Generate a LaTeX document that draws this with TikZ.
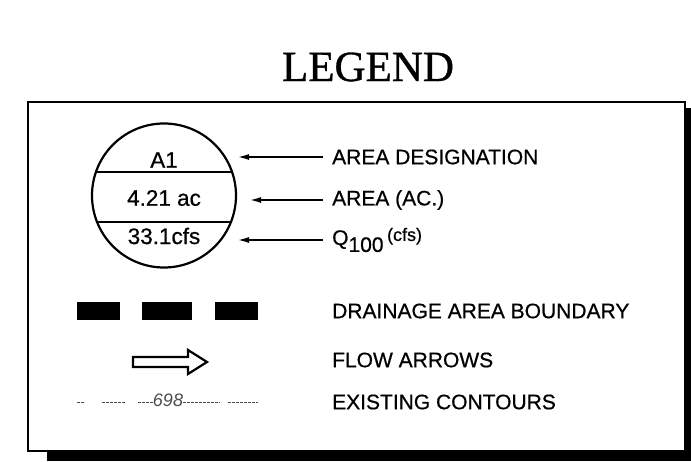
\documentclass[tikz,border=0pt]{standalone}
\usepackage{fontspec}
\setmainfont{Liberation Sans}[FakeBold=0.6]
\newfontfamily\titlefont{Liberation Serif}[FakeBold=0.8]
\newfontfamily\elevfont{Liberation Sans}
\usetikzlibrary{arrows.meta,positioning}

\begin{document}
\begin{tikzpicture}[
        x=1pt, y=-1pt,
        every node/.style={inner sep=0pt, font=\fontsize{21}{21}\selectfont},
        labeltext/.style={anchor=west},
        badgetext/.style={font=\fontsize{22.5}{22.5}\selectfont},
        pointer/.style={draw, line width=1.4pt, -{Latex[length=11pt,width=6pt]}},
        boundary/.style={fill=black},
        contour/.style={draw=gray!60!black, line width=0.8pt, dash pattern=on 3pt off 1pt}
    ]
    \useasboundingbox (0,0) rectangle (691,461);

    % Title and frame
    \node[font=\titlefont\fontsize{43}{43}\selectfont, anchor=base] (title) at (368,81) {LEGEND};
    \fill (47,451) rectangle (691,461);
    \fill (686,108) rectangle (691,461);
    \draw[line width=2pt] (28,102) rectangle (685,451);

    % Area badge
    \node[draw, circle, line width=2.2pt, minimum size=144pt] (badge) at (164,195.5) {};
    \begin{scope}
      \clip (badge.center) circle (71pt);
      \draw[line width=2pt] (80,172) -- (250,172);
      \draw[line width=2pt] (80,222) -- (250,222);
    \end{scope}
    \node[badgetext] (name) at (164,160) {A1};
    \node[badgetext] (acres) at (164,198) {4.21 ac};
    \node[badgetext] (rate) at (164,236) {33.1cfs};

    % Labels and pointers
    \node[labeltext] (desig) at (332,157) {AREA DESIGNATION};
    \node[labeltext] (area) at (332,200) {AREA (AC.)};
    \node[labeltext] (qhund) at (332,240) {Q\raisebox{-7pt}{100}\,\raisebox{4pt}{\fontsize{18}{18}\selectfont(cfs)}};
    \coordinate (tip1) at (238,157);
    \coordinate (tip2) at (250,200);
    \coordinate (tip3) at (238,240);
    \draw[pointer, shorten <=9pt] (desig.west |- tip1) -- (tip1);
    \draw[pointer, shorten <=9pt] (area.west |- tip2) -- (tip2);
    \draw[pointer, shorten <=9pt] (qhund.west |- tip3) -- (tip3);

    % Boundary
    \fill[boundary] (77,302) rectangle (120,320);
    \fill[boundary] (142,302) rectangle (192,320);
    \fill[boundary] (215,302) rectangle (258,320);
    \node[labeltext] (drain) at (332,311) {DRAINAGE AREA BOUNDARY};

    % Flow arrow
    \draw[line width=2.2pt, line join=miter] (133,357) -- (188,357) -- (188,350) -- (207,362)
        -- (188,374) -- (188,367) -- (133,367) -- cycle;
    \node[labeltext] (flowlbl) at (332,360) {FLOW ARROWS};

    % Contours
    \draw[contour] (77,402) -- (85,402);
    \draw[contour] (102,402) -- (125,402);
    \draw[contour] (138,402) -- (153,402);
    \node[font=\elevfont\itshape\fontsize{18}{18}\selectfont, text=gray!60!black] (elev) at (168,400) {698};
    \draw[contour] (183,402) -- (220,402);
    \draw[contour] (228,402) -- (258,402);
    \node[labeltext] (exist) at (332,402) {EXISTING CONTOURS};

\end{tikzpicture}
\end{document}
